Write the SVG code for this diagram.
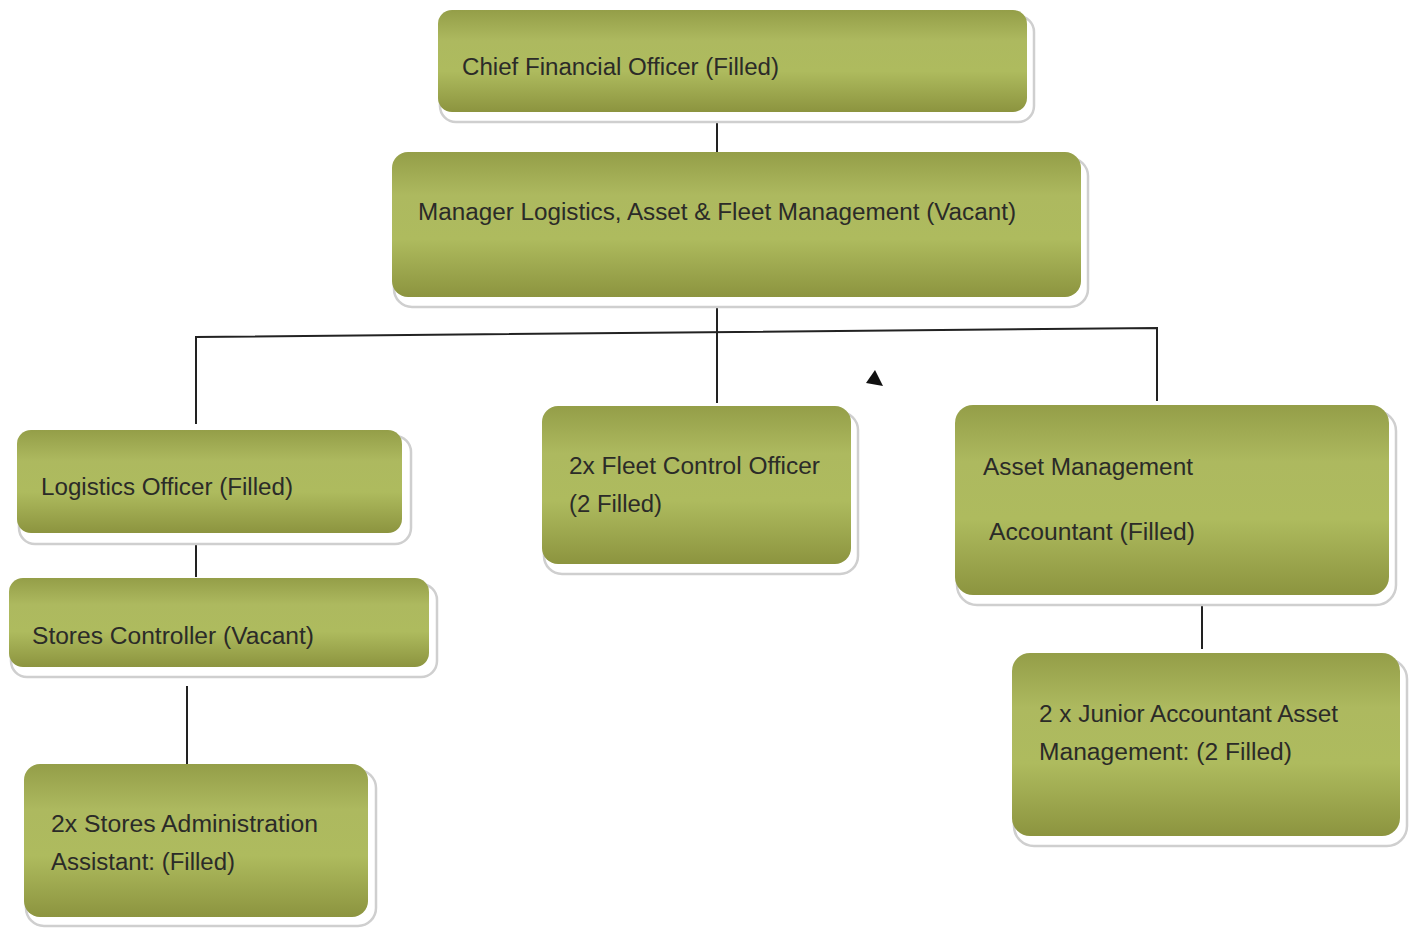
<svg xmlns="http://www.w3.org/2000/svg" width="1421" height="928" viewBox="0 0 1421 928">
<defs>
<linearGradient id="g" x1="0" y1="0" x2="0" y2="1">
<stop offset="0" stop-color="#949e48"/>
<stop offset="0.3" stop-color="#adb95f"/>
<stop offset="0.6" stop-color="#aebb5e"/>
<stop offset="1" stop-color="#8c943f"/>
</linearGradient>
</defs>
<style>
.sh{fill:#fff;stroke:#cfcfcf;stroke-width:2.5}
.bx{fill:url(#g)}
.t{font-family:"Liberation Sans",Arial,sans-serif;font-size:23px;fill:#2b2b28}
.c{stroke:#222;stroke-width:2;fill:none}
</style>
<rect width="1421" height="928" fill="#fff"/>
<g id="connectors">
<line class="c" x1="717" y1="120" x2="717" y2="153"/>
<line class="c" x1="717" y1="305" x2="717" y2="403"/>
<polyline class="c" points="196,424 196,337 1157,328 1157,401"/>
<line class="c" x1="196" y1="543" x2="196" y2="577"/>
<line class="c" x1="187" y1="686" x2="187" y2="770"/>
<line class="c" x1="1202" y1="603" x2="1202" y2="649"/>
<polygon points="875,370 883,386 866,383" fill="#111"/>
</g>
<g id="cfo">
<rect class="sh" x="440" y="16" width="594" height="106" rx="16"/>
<rect class="bx" x="438" y="10" width="589" height="102" rx="14"/>
<text class="t" x="462" y="75" textLength="317" lengthAdjust="spacingAndGlyphs">Chief Financial Officer (Filled)</text>
</g>
<g id="manager">
<rect class="sh" x="394" y="158" width="694" height="149" rx="18"/>
<rect class="bx" x="392" y="152" width="689" height="145" rx="16"/>
<text class="t" x="418" y="220" textLength="598" lengthAdjust="spacingAndGlyphs">Manager Logistics, Asset &amp; Fleet Management (Vacant)</text>
</g>
<g id="logistics">
<rect class="sh" x="19" y="436" width="392" height="108" rx="16"/>
<rect class="bx" x="17" y="430" width="385" height="103" rx="14"/>
<text class="t" x="41" y="495" textLength="252" lengthAdjust="spacingAndGlyphs">Logistics Officer (Filled)</text>
</g>
<g id="stores-controller">
<rect class="sh" x="11" y="584" width="426" height="93" rx="16"/>
<rect class="bx" x="9" y="578" width="420" height="89" rx="14"/>
<text class="t" x="32" y="644" textLength="282" lengthAdjust="spacingAndGlyphs">Stores Controller (Vacant)</text>
</g>
<g id="stores-admin">
<rect class="sh" x="26" y="770" width="350" height="156" rx="18"/>
<rect class="bx" x="24" y="764" width="344" height="153" rx="16"/>
<text class="t" x="51" y="832" textLength="267" lengthAdjust="spacingAndGlyphs">2x Stores Administration</text>
<text class="t" x="51" y="870" textLength="184" lengthAdjust="spacingAndGlyphs">Assistant: (Filled)</text>
</g>
<g id="fleet">
<rect class="sh" x="544" y="412" width="314" height="162" rx="18"/>
<rect class="bx" x="542" y="406" width="309" height="158" rx="16"/>
<text class="t" x="569" y="474" textLength="251" lengthAdjust="spacingAndGlyphs">2x Fleet Control Officer</text>
<text class="t" x="569" y="512" textLength="93" lengthAdjust="spacingAndGlyphs">(2 Filled)</text>
</g>
<g id="asset-accountant">
<rect class="sh" x="957" y="411" width="439" height="194" rx="20"/>
<rect class="bx" x="955" y="405" width="434" height="190" rx="18"/>
<text class="t" x="983" y="475" textLength="210" lengthAdjust="spacingAndGlyphs">Asset Management</text>
<text class="t" x="989" y="540" textLength="206" lengthAdjust="spacingAndGlyphs">Accountant (Filled)</text>
</g>
<g id="junior">
<rect class="sh" x="1014" y="659" width="393" height="187" rx="20"/>
<rect class="bx" x="1012" y="653" width="388" height="183" rx="18"/>
<text class="t" x="1039" y="722" textLength="299" lengthAdjust="spacingAndGlyphs">2 x Junior Accountant Asset</text>
<text class="t" x="1039" y="760" textLength="253" lengthAdjust="spacingAndGlyphs">Management: (2 Filled)</text>
</g>
</svg>
